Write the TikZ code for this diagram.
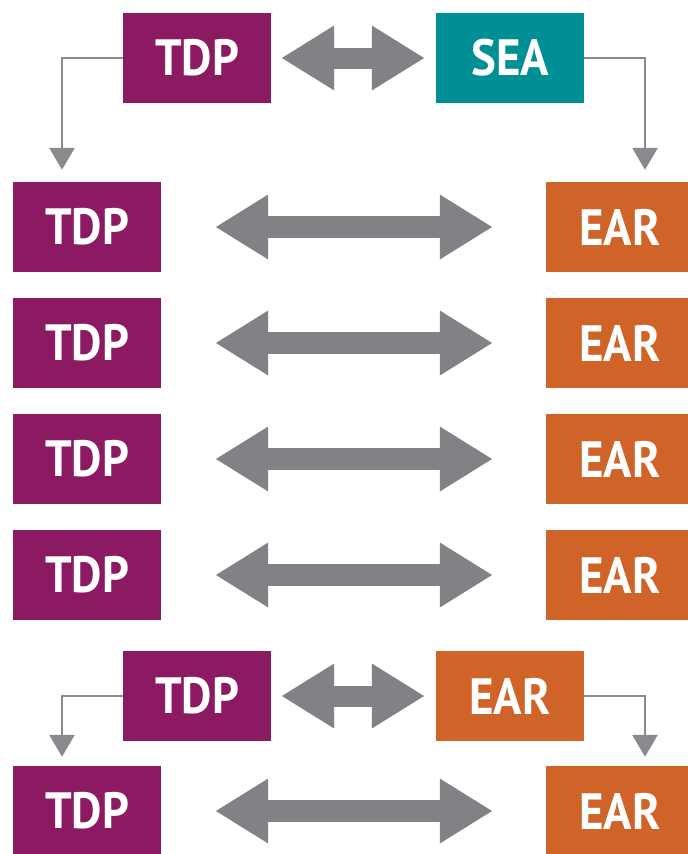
\documentclass[tikz,border=0pt]{standalone}
\usepackage{fontspec}
\setmainfont{PT Sans}[FakeStretch=0.92]
\usetikzlibrary{arrows.meta}
\definecolor{cpurple}{HTML}{8B1A62}
\definecolor{cteal}{HTML}{008F95}
\definecolor{corange}{HTML}{D06328}
\definecolor{cgray}{HTML}{818286}
\definecolor{clinegray}{HTML}{8A8A8E}
\begin{document}
\begin{tikzpicture}[x=1bp,y=-1bp,
  box/.style={minimum width=148bp,minimum height=90bp,inner sep=0pt,text=white,
    font=\fontsize{51bp}{51bp}\selectfont\bfseries},
  tdp/.style={box,fill=cpurple},
  sea/.style={box,fill=cteal},
  ear/.style={box,fill=corange},
  bigarrow/.style={cgray,line width=22bp,{Triangle[length=53bp,width=61bp]}-{Triangle[length=53bp,width=61bp]},shorten <=54bp,shorten >=53bp},
  smallarrow/.style={cgray,line width=21bp,{Triangle[length=53bp,width=61bp]}-{Triangle[length=53bp,width=61bp]},shorten <=10bp,shorten >=11bp},
  elbow/.style={clinegray,line width=2.8bp,-{Triangle[length=22bp,width=25bp]}}
]
\useasboundingbox (0,0) rectangle (688,854);
\clip (0,0) rectangle (688,854);
\fill[white] (0,0) rectangle (688,854);

% top group
\node[tdp] (tA) at (197,58) {TDP};
\node[sea] (sA) at (510,58) {SEA};
\draw[smallarrow] (tA.east) -- (sA.west);

% rows
\node[tdp] (t1) at (87,227) {TDP};
\node[ear] (e1) at (620,227) {EAR};
\node[tdp] (t2) at (87,343) {TDP};
\node[ear] (e2) at (620,343) {EAR};
\node[tdp] (t3) at (87,459) {TDP};
\node[ear] (e3) at (620,459) {EAR};
\node[tdp] (t4) at (87,575) {TDP};
\node[ear] (e4) at (620,575) {EAR};
\draw[bigarrow] (t1.east) -- (e1.west);
\draw[bigarrow] (t2.east) -- (e2.west);
\draw[bigarrow] (t3.east) -- (e3.west);
\draw[bigarrow] (t4.east) -- (e4.west);

\draw[elbow,shorten >=12bp] (tA.west) -| ([xshift=-25bp]t1.north);
\draw[elbow,shorten >=12bp] (sA.east) -| ([xshift=25bp]e1.north);

% bottom group
\node[tdp] (tB) at (197,696) {TDP};
\node[ear] (eB) at (510,696) {EAR};
\draw[smallarrow] (tB.east) -- (eB.west);
\node[tdp] (t5) at (87,811) {TDP};
\node[ear] (e5) at (620,811) {EAR};
\draw[bigarrow] (t5.east) -- (e5.west);
\draw[elbow,shorten >=9bp] (tB.west) -| ([xshift=-25bp]t5.north);
\draw[elbow,shorten >=9bp] (eB.east) -| ([xshift=25bp]e5.north);
\end{tikzpicture}
\end{document}
